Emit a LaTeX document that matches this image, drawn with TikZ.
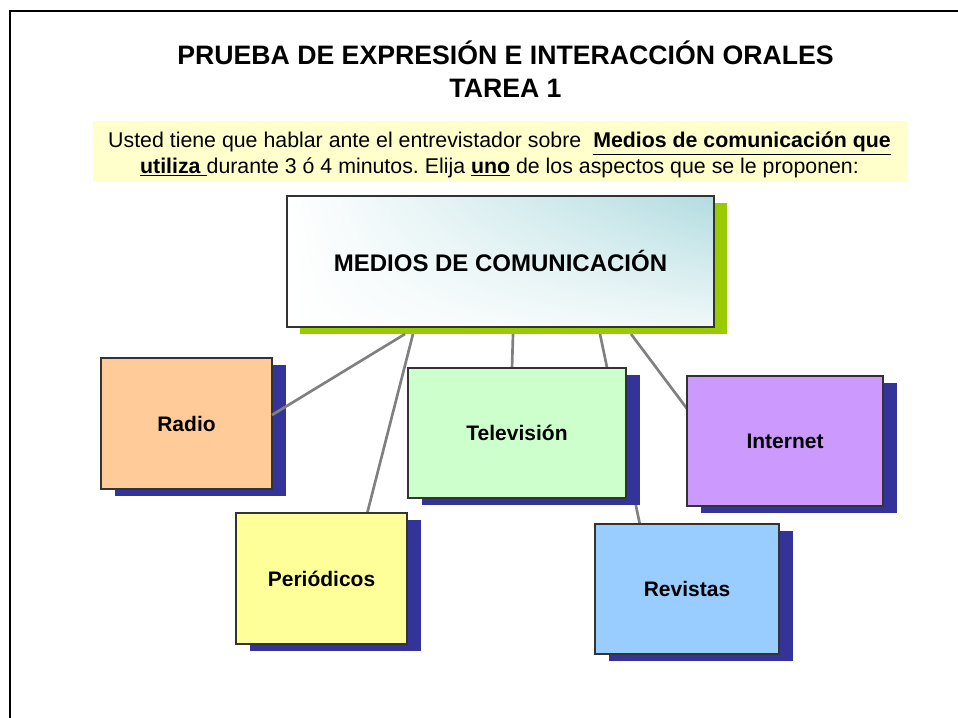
\documentclass[tikz,border=0pt]{standalone}
\usepackage{fontspec}
\setmainfont{Liberation Sans}
\frenchspacing
\usetikzlibrary{shadows,shadings}
\definecolor{framec}{HTML}{000000}
\definecolor{noteyellow}{HTML}{FFFFCC}
\definecolor{greenshadow}{HTML}{99CC00}
\definecolor{blueshadow}{HTML}{333399}
\definecolor{linegray}{HTML}{808080}
\definecolor{tealc}{HTML}{B2DCE0}
\definecolor{radioc}{HTML}{FFCC99}
\definecolor{perioc}{HTML}{FFFF99}
\definecolor{telec}{HTML}{CCFFCC}
\definecolor{internetc}{HTML}{CC99FF}
\definecolor{revistac}{HTML}{99CCFF}
\tikzset{
  topicbox/.style={draw=black!80, line width=0.8pt, inner sep=0pt,
    drop shadow={shadow xshift=10.5pt, shadow yshift=-5.25pt, opacity=1, fill=blueshadow},
    font=\fontsize{15.75pt}{18pt}\selectfont\bfseries},
  connector/.style={draw=linegray, line width=2pt},
}
\begin{document}
\begin{tikzpicture}[x=0.75pt,y=-0.75pt]
\useasboundingbox (0,0) rectangle (958,718);
% frame
\draw[line width=1.8pt, framec] (10,720) -- (10,11) -- (960,11);
% title
\node[font=\fontsize{20pt}{24.75pt}\selectfont\bfseries, align=center] (title) at (505.5,69)
  {PRUEBA DE EXPRESIÓN E INTERACCIÓN ORALES\\TAREA 1};
% instruction box
\fill[noteyellow] (93,121) rectangle (907,182);
\node[font=\fontsize{16pt}{19.5pt}\selectfont, align=center] (instr) at (499.5,155)
  {Usted tiene que hablar ante el entrevistador sobre \ \underline{\textbf{Medios de comunicación que}}\\
   \underline{\textbf{utiliza }}durante 3 ó 4 minutos. Elija \underline{\textbf{uno}} de los aspectos que se le proponen:};
% anchor coordinates of connectors
\coordinate (m1) at (405,334);
\coordinate (m2) at (413,334);
\coordinate (m3) at (513,334);
\coordinate (m4) at (600,334);
\coordinate (m5) at (631,334);
\coordinate (cr) at (272,415);
\coordinate (cp) at (367,514);
\coordinate (ct) at (512,369);
\coordinate (cv) at (640,525);
\coordinate (ci) at (688,410);
\draw[connector] (m2) -- (cp);
\draw[connector] (m3) -- (ct);
\draw[connector] (m4) -- (cv);
\draw[connector] (m5) -- (ci);
% main box
\fill[greenshadow] (300,203) rectangle (727,334);
\shade[upper left=white, upper right=tealc, lower left=white, lower right=white!80!tealc] (287,196) rectangle (714,327);
\node[draw=black!80, line width=0.8pt, minimum width=320.25pt, minimum height=98.25pt, inner sep=0pt] (main) at (500.5,261.5) {};
\node[font=\fontsize{18pt}{20pt}\selectfont\bfseries] (mainlabel) at (500.5,261) {MEDIOS DE COMUNICACIÓN};
% topic boxes
\node[topicbox, fill=radioc, minimum width=128.25pt, minimum height=98.25pt] (radio) at (186.5,423.5) {Radio};
\node[topicbox, fill=perioc, minimum width=128.25pt, minimum height=98.25pt] (perio) at (321.5,578.5) {Periódicos};
\node[topicbox, fill=telec, minimum width=163.5pt, minimum height=97.5pt] (tele) at (517,433) {Televisión};
\node[topicbox, fill=internetc, minimum width=147pt, minimum height=97.5pt] (internet) at (785,441) {Internet};
\node[topicbox, fill=revistac, minimum width=138pt, minimum height=97.5pt] (revistas) at (687,589) {Revistas};
\draw[connector] (m1) -- (cr);
\end{tikzpicture}
\end{document}
